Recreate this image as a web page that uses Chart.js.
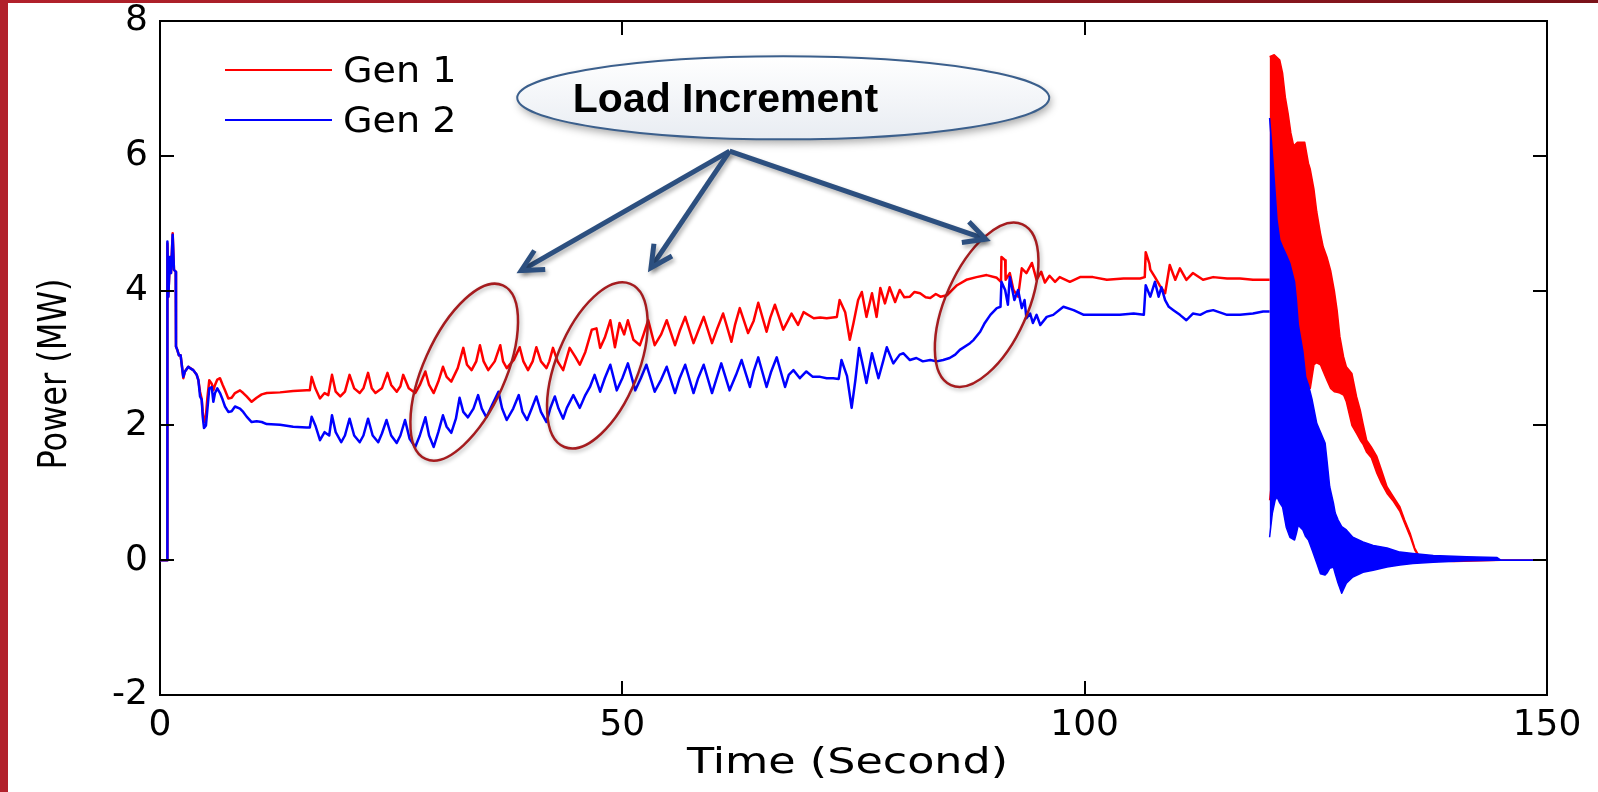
<!DOCTYPE html>
<html><head><meta charset="utf-8">
<script src="https://cdn.jsdelivr.net/npm/chart.js@4.4.0/dist/chart.umd.min.js"></script>
<style>
html,body{margin:0;padding:0;background:#fff;}
canvas{display:block;}
</style></head><body>
<canvas id="c" width="1598" height="792"></canvas>
<script>
// ---------------- data ----------------
const seriesNames = ['Gen 1', 'Gen 2'];
const xTickValues = [0, 50, 100, 150];
const yTickValues = [-2, 0, 2, 4, 6, 8];
const xAxisTitle = 'Time (Second)';
const yAxisTitle = 'Power (MW)';
const calloutText = 'Load Increment';

// Gen 1 before the trip (time s, power MW)
const gen1Time = [
 0,0.79,0.8,0.9,1.08,1.19,1.37,1.51,1.7,1.73,
 1.87,2.05,2.23,2.38,2.52,2.7,3.06,3.6,3.97,4.15,
 4.33,4.5,4.62,4.76,4.97,5.12,5.33,5.59,5.77,5.95,
 6.2,6.49,6.78,7.03,7.39,7.75,8.11,8.65,9.0,9.37,
 9.91,10.45,11.0,11.54,12.98,14.4,15.86,16.2,16.4,16.8,
 17.3,17.8,18.2,18.6,19.0,19.5,20.0,20.5,21.0,21.6,
 22.0,22.5,22.9,23.3,24.0,24.6,25.0,25.6,26.0,26.3,
 26.9,27.6,28.1,28.7,29.1,29.6,30.1,30.6,31.0,31.5,
 32.2,32.8,33.2,33.7,34.2,34.6,35.0,35.5,36.2,36.8,
 37.1,37.5,38.3,38.9,39.3,39.8,40.3,40.7,41.2,41.8,
 42.1,42.5,43.0,43.6,44.3,44.9,45.4,46.0,46.7,47.2,
 47.6,48.1,48.7,49.2,49.7,50.2,50.6,51.2,51.9,52.3,
 52.8,53.5,54.2,54.8,55.7,56.2,56.8,57.7,58.2,58.8,
 59.7,60.3,60.9,61.8,62.2,62.7,63.6,64.2,64.7,65.6,
 66.0,66.5,67.4,67.9,68.3,69.0,69.6,70.7,71.4,72.1,
 73.2,73.5,74.1,74.6,75.0,75.5,75.9,76.4,77.0,77.5,
 77.9,78.4,78.9,79.5,80.0,80.5,81.1,81.6,82.2,82.8,
 83.3,83.9,84.4,85.1,85.6,86.2,87.2,88.3,89.4,90.5,
 90.95,91.0,91.4,91.45,91.9,92.3,92.8,93.2,93.7,94.3,
 94.8,95.3,95.7,96.2,96.8,97.3,98.4,99.5,100.9,102.4,
 104.2,106.0,106.5,106.6,107.0,107.1,107.6,108.1,108.7,109.2,
 109.8,110.3,111.0,111.7,112.8,113.9,115.4,116.8,118.2,119.7,
 120.0
];
const gen1Power = [
 0,0,4.7,3.91,4.5,4.26,4.85,4.31,4.28,3.17,
 3.12,3.04,3.04,2.87,2.7,2.8,2.87,2.82,2.75,2.67,
 2.5,2.4,2.2,2.05,2.15,2.4,2.67,2.62,2.52,2.6,
 2.68,2.7,2.6,2.52,2.4,2.41,2.48,2.52,2.48,2.43,
 2.35,2.41,2.46,2.48,2.49,2.51,2.52,2.52,2.72,2.55,
 2.4,2.48,2.45,2.75,2.5,2.43,2.5,2.75,2.55,2.48,
 2.55,2.78,2.55,2.48,2.55,2.78,2.6,2.5,2.58,2.75,
 2.55,2.48,2.6,2.8,2.6,2.48,2.65,2.87,2.72,2.65,
 2.85,3.15,2.9,2.82,2.95,3.19,2.95,2.82,2.95,3.19,
 2.95,2.85,2.98,3.16,2.95,2.82,2.95,3.16,2.95,2.85,
 2.95,3.15,2.95,2.82,3.15,3.02,2.9,3.09,3.42,3.44,
 3.15,3.3,3.56,3.16,3.52,3.35,3.56,3.27,3.19,3.35,
 3.56,3.19,3.35,3.56,3.19,3.4,3.61,3.22,3.4,3.61,
 3.22,3.45,3.66,3.24,3.5,3.74,3.37,3.55,3.82,3.39,
 3.6,3.79,3.42,3.55,3.66,3.49,3.68,3.59,3.6,3.59,
 3.61,3.86,3.68,3.27,3.52,3.86,3.98,3.61,3.96,3.61,
 4.04,3.81,4.05,3.83,4.01,3.9,3.91,3.98,3.96,3.9,
 3.89,3.95,3.91,3.93,4.0,4.08,4.16,4.2,4.23,4.19,
 4.13,4.5,4.45,4.16,4.26,4.01,3.91,4.33,4.26,4.41,
 4.16,4.28,4.12,4.22,4.13,4.2,4.13,4.2,4.2,4.16,
 4.18,4.18,4.2,4.57,4.4,4.31,4.2,4.08,3.96,4.38,
 4.16,4.33,4.16,4.26,4.16,4.2,4.18,4.18,4.16,4.16,
 4.16
];

// Gen 2 before the trip
const gen2Time = [
 0,0.79,0.8,0.9,1.08,1.19,1.37,1.51,1.7,1.73,
 1.87,2.05,2.23,2.38,2.52,2.7,3.06,3.24,3.6,3.97,
 4.15,4.33,4.51,4.62,4.76,4.97,5.12,5.33,5.59,5.77,
 5.95,6.2,6.49,6.78,7.03,7.39,7.75,8.11,8.65,9.0,
 9.37,9.91,10.45,11.0,11.54,12.98,14.4,15.86,16.2,16.4,
 16.8,17.3,17.8,18.3,18.6,19.0,19.6,20.0,20.5,21.0,
 21.6,22.0,22.5,23.0,23.6,24.0,24.5,25.0,25.6,26.0,
 26.5,27.0,27.6,28.1,28.7,29.1,29.6,30.1,30.6,31.0,
 31.5,32.0,32.4,32.8,33.3,33.9,34.4,34.8,35.3,35.9,
 36.6,37.0,37.5,38.2,38.8,39.2,39.7,40.2,40.7,41.2,
 41.8,42.2,42.7,43.1,43.6,44.0,44.7,45.4,46.0,46.5,
 47.0,47.6,48.1,48.7,49.4,50.0,50.6,51.4,52.0,52.6,
 53.5,54.2,54.8,55.7,56.2,56.8,57.7,58.2,58.8,59.7,
 60.2,60.7,61.6,62.3,62.9,63.8,64.2,64.7,65.6,66.1,
 66.7,67.6,68.0,68.5,69.2,69.9,70.6,71.4,72.1,72.8,
 73.4,73.7,74.3,74.8,75.2,75.6,76.0,76.4,77.0,77.7,
 78.2,78.6,79.3,80.0,80.4,81.1,81.8,82.5,83.3,84.0,
 84.7,85.4,86.0,86.5,87.6,88.0,88.7,89.2,89.8,90.5,
 90.9,91.0,91.4,91.7,91.9,92.4,92.8,93.2,93.5,93.7,
 94.1,94.4,94.8,95.2,95.9,96.6,97.7,98.8,99.9,100.9,
 102.4,103.8,105.3,106.4,106.6,107.1,107.6,108.0,108.3,108.7,
 109.1,109.6,110.3,111.0,111.7,112.5,113.2,113.9,115.4,116.8,
 118.2,119.3,120.0
];
const gen2Power = [
 0,0,4.73,3.91,4.5,4.26,4.83,4.31,4.28,3.17,
 3.12,3.04,3.04,2.87,2.72,2.8,2.87,2.85,2.82,2.75,
 2.67,2.43,2.38,2.13,1.96,2.0,2.23,2.55,2.57,2.35,
 2.48,2.55,2.48,2.38,2.28,2.2,2.21,2.28,2.25,2.2,
 2.13,2.05,2.06,2.05,2.02,2.01,1.98,1.97,1.97,2.13,
 2.0,1.78,1.9,1.85,2.15,1.9,1.75,1.85,2.1,1.85,
 1.75,1.85,2.1,1.85,1.75,1.88,2.08,1.85,1.74,1.85,
 2.08,1.8,1.68,1.85,2.12,1.85,1.68,1.9,2.15,1.98,
 1.89,2.1,2.41,2.2,2.12,2.25,2.45,2.25,2.12,2.3,
 2.5,2.25,2.08,2.25,2.45,2.2,2.08,2.25,2.43,2.2,
 2.05,2.25,2.43,2.25,2.1,2.26,2.45,2.26,2.45,2.57,
 2.75,2.5,2.7,2.9,2.52,2.7,2.92,2.52,2.7,2.9,
 2.5,2.68,2.87,2.48,2.7,2.9,2.48,2.7,2.9,2.48,
 2.7,2.92,2.52,2.75,2.97,2.57,2.8,3.01,2.57,2.8,
 3.01,2.57,2.75,2.82,2.7,2.8,2.72,2.72,2.7,2.7,
 2.69,2.97,2.73,2.26,2.67,3.15,2.9,2.63,3.07,2.7,
 2.95,3.16,2.92,3.05,3.07,2.97,3.0,2.95,2.97,2.95,
 2.97,3.0,3.05,3.12,3.22,3.27,3.39,3.52,3.64,3.74,
 3.76,4.13,4.01,3.79,4.2,3.86,4.01,3.74,3.86,3.59,
 3.66,3.52,3.64,3.49,3.61,3.64,3.76,3.71,3.64,3.64,
 3.64,3.64,3.66,3.64,4.08,3.91,4.13,3.91,4.05,3.86,
 3.76,3.71,3.64,3.56,3.66,3.64,3.69,3.71,3.64,3.64,
 3.66,3.69,3.69
];

// After the trip at 120 s the outputs swing fast: read as upper / lower envelopes
const gen1TripTime = [
 120,120.5,121.1,121.4,121.7,122.0,122.3,122.6,123.0,123.8,
 124.2,124.4,124.8,125.1,125.5,125.8,126.2,126.6,127.0,127.3,
 127.6,128.0,128.3,128.9,129.4,129.8,130.1,130.5,131.0,131.6,
 132.1,132.7,133.4,134.1,134.6,135.2,135.7,136.1,136.5,140,
 145,150
];
const gen1TripUpper = [
 7.47,7.5,7.42,7.23,6.87,6.63,6.34,6.15,6.2,6.2,
 5.89,5.8,5.5,5.17,4.85,4.65,4.5,4.3,4.0,3.71,
 3.32,3.02,2.87,2.77,2.43,2.23,2.03,1.78,1.68,1.54,
 1.34,1.09,0.94,0.79,0.6,0.4,0.18,0.08,0.02,0.02,
 0,0
];
const gen1TripLower = [
 0.89,1.5,2.0,2.2,2.4,2.5,2.6,2.65,2.7,2.72,
 2.6,2.55,2.9,2.93,2.9,2.8,2.67,2.55,2.5,2.49,
 2.48,2.45,2.35,2.0,1.88,1.78,1.72,1.6,1.52,1.29,
 1.14,0.99,0.87,0.72,0.55,0.35,0.15,0.06,0,-0.02,
 0,0
];
const gen2TripTime = [
 120,120.3,120.6,120.8,121.1,121.4,121.8,122.2,122.7,122.9,
 123.1,123.6,123.9,124.2,124.6,125.1,125.5,126.0,126.2,126.5,
 126.9,127.1,127.4,127.8,128.3,129.0,130.1,131.2,132.7,134.1,
 135.5,137.7,141.3,144.6,145,150
];
const gen2TripUpper = [
 6.56,6.04,5.45,5.05,4.75,4.65,4.53,4.4,4.13,3.86,
 3.5,3.1,2.72,2.6,2.38,2.03,1.9,1.74,1.49,1.09,
 0.85,0.7,0.6,0.5,0.45,0.34,0.27,0.22,0.18,0.12,
 0.1,0.07,0.05,0.04,0,0
];
const gen2TripLower = [
 0.34,0.7,0.89,0.94,0.85,0.79,0.49,0.34,0.3,0.4,
 0.52,0.45,0.35,0.3,0.15,-0.04,-0.2,-0.22,-0.19,-0.12,
 -0.1,-0.2,-0.34,-0.49,-0.34,-0.25,-0.18,-0.15,-0.1,-0.07,
 -0.05,-0.03,-0.01,0,0,0
];

// ---------------- annotation placement (data coords + pixel sizes) ----------------
const rings = [
  {t: 32.9, v: 2.79, a: 95, b: 41, tilt: 66},
  {t: 47.3, v: 2.89, a: 88, b: 41, tilt: 68},
  {t: 89.4, v: 3.79, a: 88, b: 41, tilt: 66}
];
const bubble = {t: 67.4, v: 6.86, rx: 266, ry: 41.5, textT: 61.15, textV: 6.82};
const arrowFrom = {t: 61.6, v: 6.07};
const arrowTo = [{t: 38.6, v: 4.26}, {t: 52.8, v: 4.28}, {t: 89.8, v: 4.74}];

// ---------------- chart ----------------
const RED = '#ff0000', BLUE = '#0000ff';
const pts = (tt, vv) => tt.map((t, i) => ({x: t, y: vv[i]}));
const lineDs = (label, data, color, extra) => Object.assign({
  label, data, borderColor: color, backgroundColor: color, borderWidth: 2.5,
  pointRadius: 0, tension: 0, fill: false, borderJoinStyle: 'round'
}, extra || {});

const datasets = [
  lineDs(seriesNames[1], pts(gen2Time, gen2Power), BLUE),
  lineDs('', pts(gen2TripTime, gen2TripUpper), BLUE, {fill: '+1', borderWidth: 1.5}),
  lineDs('', pts(gen2TripTime, gen2TripLower), BLUE, {borderWidth: 1.5}),
  lineDs(seriesNames[0], pts(gen1Time, gen1Power), RED),
  lineDs('', pts(gen1TripTime, gen1TripUpper), RED, {fill: '+1', borderWidth: 1.5}),
  lineDs('', pts(gen1TripTime, gen1TripLower), RED, {borderWidth: 1.5})
];

const framePlugin = {
  id: 'frame',
  beforeDraw(chart) {
    const c = chart.ctx;
    c.save();
    c.fillStyle = '#fff';
    c.fillRect(0, 0, chart.width, chart.height);
    c.fillStyle = '#b2212b';
    c.fillRect(0, 0, 8, chart.height);
    const g = c.createLinearGradient(0, 0, chart.width, 0);
    g.addColorStop(0, '#b2212b'); g.addColorStop(1, '#7a1219');
    c.fillStyle = g;
    c.fillRect(0, 0, chart.width, 3);
    c.restore();
  },
  afterDatasetsDraw(chart) {
    const {ctx: c, chartArea: a, scales: {x, y}} = chart;
    c.save();
    c.strokeStyle = '#000'; c.lineWidth = 2;
    c.beginPath();
    c.moveTo(a.left, a.top); c.lineTo(a.right, a.top); c.lineTo(a.right, a.bottom);
    c.stroke();
    const L = 14;
    c.beginPath();
    y.ticks.forEach(tk => {
      const p = Math.round(y.getPixelForValue(tk.value));
      c.moveTo(a.left, p); c.lineTo(a.left + L, p);
      c.moveTo(a.right, p); c.lineTo(a.right - L, p);
    });
    x.ticks.forEach(tk => {
      const p = Math.round(x.getPixelForValue(tk.value));
      c.moveTo(p, a.bottom); c.lineTo(p, a.bottom - L);
      c.moveTo(p, a.top); c.lineTo(p, a.top + L);
    });
    c.stroke();

    // axis titles (stretched horizontally like the reference)
    c.fillStyle = '#000';
    c.textAlign = 'center'; c.textBaseline = 'middle';
    c.font = '35px "DejaVu Sans"';
    c.save();
    c.translate((a.left + a.right) / 2 - 6, 764);
    c.scale(1.27, 1);
    c.fillText(xAxisTitle, 0, 0);
    c.restore();
    c.save();
    c.font = '32px "DejaVu Sans"';
    c.translate(56, (a.top + a.bottom) / 2 + 16);
    c.rotate(-Math.PI / 2);
    c.scale(1, 1.22);
    c.fillText(yAxisTitle, 0, 0);
    c.restore();
    c.restore();
  }
};

function drawArrow(c, x0, y0, x1, y1) {
  const ang = Math.atan2(y0 - y1, x0 - x1);
  const tx = x1 + 5 * Math.cos(ang), ty = y1 + 5 * Math.sin(ang);
  const L = 24, h = 27 * Math.PI / 180;
  c.beginPath(); c.moveTo(x0, y0); c.lineTo(tx, ty); c.stroke();
  c.beginPath();
  c.moveTo(tx + L * Math.cos(ang + h), ty + L * Math.sin(ang + h));
  c.lineTo(tx, ty);
  c.lineTo(tx + L * Math.cos(ang - h), ty + L * Math.sin(ang - h));
  c.stroke();
}

const notesPlugin = {
  id: 'notes',
  afterDraw(chart) {
    const {ctx: c, chartArea: a, scales: {x, y}} = chart;
    const P = (t, v) => [x.getPixelForValue(t), y.getPixelForValue(v)];

    // legend (no box), Gen 1 then Gen 2
    c.save();
    const legendColors = [RED, BLUE];
    seriesNames.forEach((name, i) => {
      const ly = a.top + 49 + i * 50;
      c.strokeStyle = legendColors[i]; c.lineWidth = 2;
      c.beginPath(); c.moveTo(a.left + 65, ly); c.lineTo(a.left + 172, ly); c.stroke();
      c.fillStyle = '#000';
      c.font = '36px "DejaVu Sans"';
      c.textAlign = 'left'; c.textBaseline = 'middle';
      c.save();
      c.translate(a.left + 183, ly + 3);
      c.scale(1.06, 1);
      c.fillText(name, 0, 0);
      c.restore();
    });
    c.restore();

    // red rings
    c.save();
    c.strokeStyle = '#a51c1f'; c.lineWidth = 2.5;
    c.shadowColor = 'rgba(0,0,0,0.3)'; c.shadowBlur = 4; c.shadowOffsetX = 1.5; c.shadowOffsetY = 2;
    rings.forEach(r => {
      const [cx, cy] = P(r.t, r.v);
      c.beginPath();
      c.ellipse(cx, cy, r.a, r.b, -r.tilt * Math.PI / 180, 0, 2 * Math.PI);
      c.stroke();
    });
    c.restore();

    // arrows
    c.save();
    c.strokeStyle = '#2c4f7f'; c.lineWidth = 5; c.lineJoin = 'miter'; c.lineCap = 'butt';
    c.shadowColor = 'rgba(0,0,0,0.3)'; c.shadowBlur = 4; c.shadowOffsetX = 2; c.shadowOffsetY = 3;
    const [ox, oy] = P(arrowFrom.t, arrowFrom.v);
    arrowTo.forEach(d => { const [tx, ty] = P(d.t, d.v); drawArrow(c, ox, oy, tx, ty); });
    c.restore();

    // callout bubble
    c.save();
    const [bx, by] = P(bubble.t, bubble.v);
    c.beginPath();
    c.ellipse(bx, by, bubble.rx, bubble.ry, 0, 0, 2 * Math.PI);
    const g = c.createLinearGradient(0, by - bubble.ry, 0, by + bubble.ry);
    g.addColorStop(0, '#ffffff'); g.addColorStop(1, '#e8ecf2');
    c.shadowColor = 'rgba(0,0,0,0.35)'; c.shadowBlur = 8; c.shadowOffsetX = 2; c.shadowOffsetY = 4;
    c.fillStyle = g; c.fill();
    c.shadowColor = 'transparent';
    c.strokeStyle = '#3b5f8c'; c.lineWidth = 2; c.stroke();
    const [qx, qy] = P(bubble.textT, bubble.textV);
    c.fillStyle = '#000';
    c.font = 'bold 41px "Liberation Sans"';
    c.textAlign = 'center'; c.textBaseline = 'middle';
    c.fillText(calloutText, qx, qy);
    c.restore();
  }
};

const tickFont = {family: 'DejaVu Sans', size: 36, lineHeight: 1.15};

new Chart(document.getElementById('c'), {
  type: 'line',
  data: {datasets},
  options: {
    responsive: false,
    animation: false,
    devicePixelRatio: 1,
    layout: {padding: {left: 0, right: 51, top: 21, bottom: 0}},
    plugins: {legend: {display: false}, tooltip: {enabled: false}},
    elements: {point: {radius: 0}},
    scales: {
      x: {
        type: 'linear', min: 0, max: 150,
        afterBuildTicks: s => { s.ticks = xTickValues.map(v => ({value: v})); },
        afterFit: s => { s.height = 97; s.paddingLeft = 0; s.paddingRight = 0; },
        grid: {display: false, drawTicks: false},
        border: {display: true, color: '#000', width: 2},
        ticks: {color: '#000', font: tickFont, padding: 10, maxRotation: 0, autoSkip: false,
                callback: v => String(v)},
        title: {display: false, text: xAxisTitle}
      },
      y: {
        type: 'linear', min: -2, max: 8,
        afterBuildTicks: s => { s.ticks = yTickValues.map(v => ({value: v})); },
        afterFit: s => { s.width = 160; s.paddingTop = 0; s.paddingBottom = 0; },
        grid: {display: false, drawTicks: false},
        border: {display: true, color: '#000', width: 2},
        ticks: {color: '#000', font: tickFont, padding: 12, autoSkip: false,
                callback: v => String(v)},
        title: {display: false, text: yAxisTitle}
      }
    }
  },
  plugins: [framePlugin, notesPlugin]
});
</script>
</body></html>
